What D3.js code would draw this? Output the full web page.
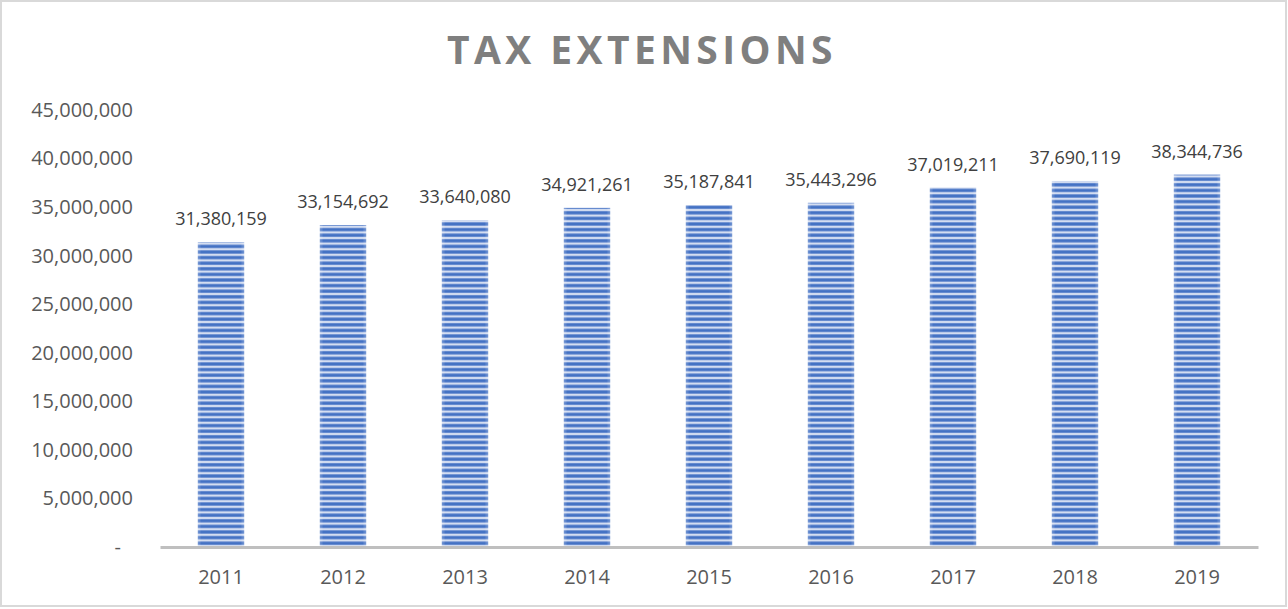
<!DOCTYPE html>
<html>
<head>
<meta charset="utf-8">
<script src="https://cdn.jsdelivr.net/npm/d3@7"></script>
<style>
  html, body { margin: 0; padding: 0; background: #fff; }
  svg { display: block; }
</style>
</head>
<body>
<svg id="chart" width="1288" height="609"></svg>
<script>
// Tax extensions by year
const years = ["2011", "2012", "2013", "2014", "2015", "2016", "2017", "2018", "2019"];
const extensions = [31380159, 33154692, 33640080, 34921261, 35187841, 35443296, 37019211, 37690119, 38344736];
const yTicks = [0, 5000000, 10000000, 15000000, 20000000, 25000000, 30000000, 35000000, 40000000, 45000000];

const W = 1288, H = 609;
const margin = { left: 160, right: 30, top: 110, bottom: 62 };
const svg = d3.select("#chart");

// outer frame
svg.append("rect")
  .attr("x", 1).attr("y", 1).attr("width", W - 3).attr("height", H - 4)
  .attr("fill", "#fff").attr("stroke", "#d9d9d9").attr("stroke-width", 2);

// striped fill for the bars
const defs = svg.append("defs");
const grad = defs.append("linearGradient").attr("id", "edge").attr("x1", 0).attr("x2", 1);
grad.append("stop").attr("offset", "0").attr("stop-color", "#fff").attr("stop-opacity", 0.25);
grad.append("stop").attr("offset", "0.08").attr("stop-color", "#fff").attr("stop-opacity", 0);
grad.append("stop").attr("offset", "0.92").attr("stop-color", "#fff").attr("stop-opacity", 0);
grad.append("stop").attr("offset", "1").attr("stop-color", "#fff").attr("stop-opacity", 0.25);

const pat = defs.append("pattern").attr("id", "stripes")
  .attr("patternUnits", "userSpaceOnUse").attr("width", 8).attr("height", 5.6);
pat.append("rect").attr("width", 8).attr("height", 5.6).attr("fill", "#4472c4");
pat.append("rect").attr("y", 1.5).attr("width", 8).attr("height", 2.6).attr("fill", "#a3b8e3");
pat.append("rect").attr("y", 2.2).attr("width", 8).attr("height", 1.2).attr("fill", "#eef2fa");

const x = d3.scaleBand().domain(years)
  .range([margin.left, W - margin.right]).paddingInner(0.62).paddingOuter(0.31);
const y = d3.scaleLinear().domain([0, 45000000]).range([H - margin.bottom, margin.top]);

// title
svg.append("text")
  .attr("x", 642).attr("y", 64)
  .attr("text-anchor", "middle")
  .attr("font-family", "'Open Sans', sans-serif")
  .attr("font-weight", 700)
  .attr("font-size", 39)
  .attr("letter-spacing", 4.4)
  .attr("fill", "#7f7f7f")
  .text("TAX EXTENSIONS");

// y axis labels
const fmt = d3.format(",");
const yAxis = d3.axisLeft(y).tickValues(yTicks)
  .tickSize(0).tickPadding(0)
  .tickFormat(d => d === 0 ? "-" : fmt(d));
const gy = svg.append("g").attr("transform", "translate(133,0)").call(yAxis);
gy.select(".domain").remove();
gy.selectAll("text")
  .attr("font-family", "'Open Sans', sans-serif")
  .attr("font-size", 20)
  .attr("fill", "#595959");
gy.selectAll(".tick").filter(d => d === 0).select("text").attr("dx", -12);

// bars
svg.append("g").selectAll("rect.bar").data(years).join("rect")
  .attr("class", "bar")
  .attr("x", d => x(d))
  .attr("width", x.bandwidth())
  .attr("y", (d, i) => y(extensions[i]))
  .attr("height", (d, i) => y(0) - y(extensions[i]))
  .attr("fill", "url(#stripes)");
svg.append("g").selectAll("rect.edge").data(years).join("rect")
  .attr("x", d => x(d))
  .attr("width", x.bandwidth())
  .attr("y", (d, i) => y(extensions[i]))
  .attr("height", (d, i) => y(0) - y(extensions[i]))
  .attr("fill", "url(#edge)");

// x axis
const xAxis = d3.axisBottom(x).tickSize(0).tickPadding(23);
const gx = svg.append("g").attr("transform", `translate(0,${y(0)})`).call(xAxis);
gx.select(".domain").attr("stroke", "#bfbfbf").attr("stroke-width", 3);
gx.selectAll("text")
  .attr("font-family", "'Open Sans', sans-serif")
  .attr("font-size", 20)
  .attr("fill", "#595959");

// value labels
svg.append("g").selectAll("text").data(years).join("text")
  .attr("x", d => x(d) + x.bandwidth() / 2)
  .attr("y", (d, i) => y(extensions[i]) - 17)
  .attr("text-anchor", "middle")
  .attr("font-family", "'Open Sans', sans-serif")
  .attr("font-size", 18)
  .attr("fill", "#404040")
  .text((d, i) => fmt(extensions[i]));
</script>
</body>
</html>
